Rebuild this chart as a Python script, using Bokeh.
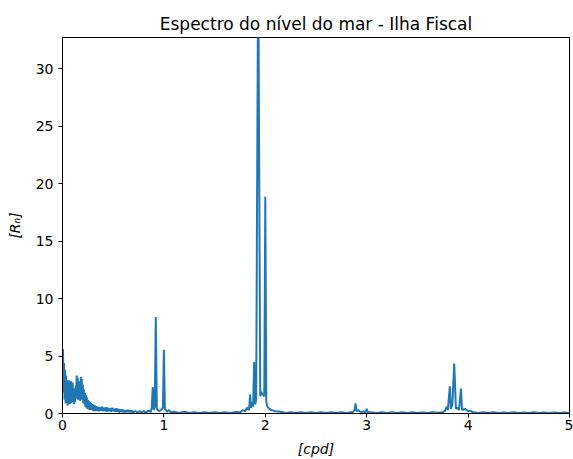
from bokeh.plotting import figure
from bokeh.models import Range1d, FixedTicker
from bokeh.embed import file_html
from bokeh.resources import INLINE

# Spectrum: frequency [cpd] and amplitude [R_n]
freq_low = [0.000, 0.005, 0.010, 0.015, 0.020, 0.025, 0.030, 0.035, 0.040, 0.045,
            0.050, 0.055, 0.060, 0.065, 0.070, 0.075, 0.080, 0.085, 0.090, 0.095,
            0.100, 0.105, 0.110, 0.115, 0.120, 0.125, 0.130, 0.135, 0.140, 0.145,
            0.150, 0.155, 0.160, 0.165, 0.170, 0.175, 0.180, 0.185, 0.190, 0.195,
            0.200, 0.205, 0.210, 0.215, 0.220, 0.225, 0.230, 0.235, 0.240, 0.245,
            0.250, 0.255, 0.260, 0.265, 0.270, 0.275, 0.280, 0.285, 0.290, 0.295,
            0.300, 0.305, 0.310, 0.315, 0.320, 0.325, 0.330, 0.335, 0.340, 0.345]
amp_low = [4.0, 5.6, 1.8, 4.4, 1.2, 3.8, 0.9, 3.3, 1.0, 2.9,
           0.7, 2.6, 1.1, 2.9, 0.8, 2.5, 1.3, 2.8, 0.9, 2.4,
           2.7, 1.0, 2.2, 0.8, 1.9, 1.0, 2.4, 1.3, 3.3, 1.6,
           3.1, 1.2, 2.6, 1.4, 2.8, 1.1, 3.2, 1.5, 3.0, 1.2,
           2.5, 0.9, 2.1, 0.8, 1.8, 0.6, 1.6, 0.5, 1.4, 0.4,
           1.2, 0.5, 1.1, 0.3, 1.0, 0.4, 0.9, 0.3, 0.85, 0.3,
           0.8, 0.2, 0.75, 0.3, 0.7, 0.2, 0.65, 0.25, 0.6, 0.2]

freq_mid = [0.35, 0.36, 0.37, 0.38, 0.39, 0.40, 0.41, 0.42, 0.43, 0.44,
            0.45, 0.46, 0.47, 0.48, 0.49, 0.50, 0.51, 0.52, 0.53, 0.54,
            0.55, 0.56, 0.57, 0.58, 0.59, 0.60, 0.61, 0.62, 0.63, 0.64,
            0.65, 0.66, 0.67, 0.68, 0.69, 0.70, 0.72, 0.74, 0.76, 0.78,
            0.80, 0.82, 0.84, 0.86, 0.87]
amp_mid = [0.6, 0.2, 0.55, 0.25, 0.6, 0.2, 0.5, 0.2, 0.55, 0.15,
           0.5, 0.2, 0.45, 0.15, 0.5, 0.2, 0.4, 0.15, 0.45, 0.15,
           0.4, 0.1, 0.35, 0.15, 0.35, 0.1, 0.3, 0.1, 0.3, 0.12,
           0.3, 0.1, 0.25, 0.1, 0.25, 0.08, 0.22, 0.08, 0.2, 0.08,
           0.2, 0.08, 0.2, 0.25, 0.1]

freq_diurnal = [0.88, 0.89, 0.90, 0.91, 0.92, 0.93, 0.95, 0.97, 0.99, 1.00,
                1.01, 1.03, 1.05, 1.07, 1.10]
amp_diurnal = [0.5, 2.3, 0.3, 0.6, 8.4, 0.4, 0.2, 0.3, 0.5, 5.55,
               0.4, 0.15, 0.3, 0.1, 0.15]

freq_semi = [1.15, 1.20, 1.25, 1.30, 1.35, 1.40, 1.45, 1.50, 1.55, 1.60,
             1.65, 1.70, 1.75, 1.78, 1.80, 1.82, 1.84, 1.85, 1.86, 1.87,
             1.88, 1.89, 1.90, 1.91, 1.93, 1.95, 1.96, 1.97, 1.99,
             2.00, 2.01, 2.02, 2.04, 2.06, 2.08, 2.10, 2.15]
amp_semi = [0.05, 0.15, 0.05, 0.12, 0.05, 0.1, 0.04, 0.12, 0.05, 0.1,
            0.05, 0.12, 0.1, 0.3, 0.2, 0.5, 0.3, 1.65, 0.5, 1.0,
            0.6, 4.5, 0.8, 1.2, 40.0, 1.5, 1.9, 1.7, 1.5,
            18.85, 1.0, 0.6, 0.4, 0.3, 0.25, 0.2, 0.15]

freq_ter = [2.20, 2.25, 2.30, 2.35, 2.40, 2.45, 2.50, 2.55, 2.60, 2.65,
            2.70, 2.75, 2.80, 2.84, 2.86, 2.88, 2.89, 2.90, 2.92, 2.94,
            2.97, 2.98, 2.99, 3.00, 3.01, 3.03]
amp_ter = [0.05, 0.12, 0.05, 0.1, 0.04, 0.1, 0.05, 0.1, 0.04, 0.1,
           0.05, 0.12, 0.05, 0.12, 0.1, 0.3, 0.87, 0.2, 0.3, 0.1,
           0.2, 0.1, 0.15, 0.4, 0.1, 0.12]

freq_quarter = [3.10, 3.15, 3.20, 3.25, 3.30, 3.35, 3.40, 3.45, 3.50, 3.55,
                3.60, 3.65, 3.70, 3.75, 3.77, 3.79, 3.80, 3.82, 3.83, 3.845,
                3.863, 3.88, 3.90, 3.91, 3.93, 3.94, 3.97, 4.00, 4.02, 4.05]
amp_quarter = [0.05, 0.1, 0.04, 0.1, 0.05, 0.1, 0.04, 0.1, 0.05, 0.08,
               0.04, 0.1, 0.06, 0.12, 0.2, 0.6, 0.3, 2.37, 0.4, 0.8,
               4.34, 0.4, 0.5, 0.3, 2.17, 0.3, 0.4, 0.2, 0.25, 0.1]

freq_high = [4.10, 4.15, 4.20, 4.25, 4.30, 4.35, 4.40, 4.45, 4.50, 4.55,
             4.60, 4.65, 4.70, 4.75, 4.80, 4.85, 4.90, 4.95, 5.00]
amp_high = [0.05, 0.1, 0.04, 0.1, 0.05, 0.09, 0.04, 0.1, 0.05, 0.08,
            0.04, 0.1, 0.05, 0.08, 0.04, 0.09, 0.05, 0.08, 0.05]

x_ticks = [0, 1, 2, 3, 4, 5]
y_ticks = [0, 5, 10, 15, 20, 25, 30]

freq = freq_low + freq_mid + freq_diurnal + freq_semi + freq_ter + freq_quarter + freq_high
amp = amp_low + amp_mid + amp_diurnal + amp_semi + amp_ter + amp_quarter + amp_high

p = figure(width=573, height=459, output_backend="svg", toolbar_location=None,
           x_range=Range1d(0, 5), y_range=Range1d(0, 32.7),
           title="Espectro do nível do mar - Ilha Fiscal",
           min_border_left=62, min_border_right=4, min_border_top=37, min_border_bottom=45)

p.line(freq, amp, line_color="#1f77b4", line_width=2)

p.title.align = "center"
p.title.text_font = "DejaVu Sans"
p.title.text_font_size = "17px"
p.title.text_font_style = "normal"
p.title.text_color = "black"
p.title.standoff = 8

p.xgrid.visible = False
p.ygrid.visible = False
p.outline_line_color = "black"
p.outline_line_alpha = 1
p.background_fill_color = "white"
p.border_fill_color = "white"

for ax in (p.xaxis[0], p.yaxis[0]):
    ax.major_label_text_font = "DejaVu Sans"
    ax.major_label_text_font_size = "14px"
    ax.major_label_text_color = "black"
    ax.axis_label_text_font = "DejaVu Sans"
    ax.axis_label_text_font_size = "14px"
    ax.axis_label_text_font_style = "italic"
    ax.axis_label_text_color = "black"
    ax.major_tick_in = 0
    ax.major_tick_out = 4
    ax.minor_tick_in = 0
    ax.minor_tick_out = 0
    ax.axis_line_color = "black"
    ax.major_tick_line_color = "black"

p.xaxis.ticker = FixedTicker(ticks=x_ticks)
p.yaxis.ticker = FixedTicker(ticks=y_ticks)
p.xaxis.axis_label = "[cpd]"
p.yaxis.axis_label = "[Rₙ]"
p.xaxis.major_label_standoff = 2
p.yaxis.major_label_standoff = 5
p.xaxis.axis_label_standoff = 8
p.yaxis.axis_label_standoff = 10

open("out.html", "w").write(file_html(p, INLINE))
